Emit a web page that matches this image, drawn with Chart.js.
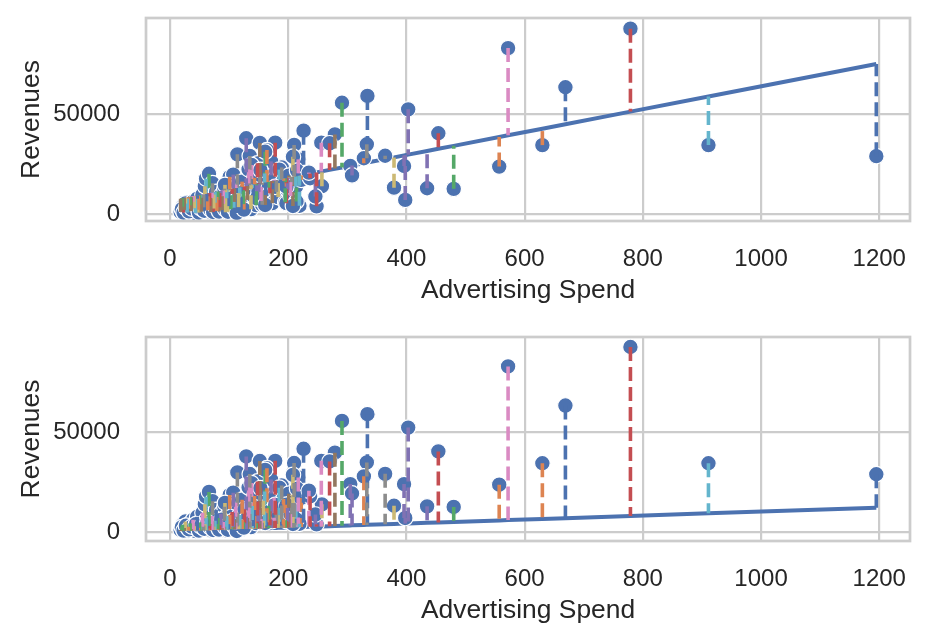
<!DOCTYPE html>
<html>
<head>
<meta charset="utf-8">
<script src="https://cdn.jsdelivr.net/npm/chart.js@4.4.1/dist/chart.umd.min.js"></script>
<style>
html,body{margin:0;padding:0;background:#ffffff;}
#wrap{position:relative;width:929px;height:643px;overflow:hidden;}
.box{position:absolute;left:0;width:929px;}
canvas{display:block;}
</style>
</head>
<body>
<div id="wrap">
  <div class="box" style="top:0px;height:320px"><canvas id="topChart" width="929" height="320"></canvas></div>
  <div class="box" style="top:319px;height:324px"><canvas id="bottomChart" width="929" height="324"></canvas></div>
</div>
<script>
// ---- data (Advertising Spend vs Revenues) ----
const adSpend = [
  1195,630,480,779,435,279,572,364,379,911,
  669,557,291,454,403,18,256,333,257,219,
  334,328,21,270,398,24,217,210,26,29,
  226,31,34,178,396,36,39,189,41,43,
  46,48,50,248,305,53,55,57,59,61,
  62,64,66,67,308,69,71,72,74,76,
  78,79,81,84,86,88,90,92,94,96,
  99,101,103,105,107,109,111,114,116,118,
  120,122,124,126,129,131,133,135,137,139,
  141,143,146,148,150,152,154,156,158,160,
  162,164,167,169,171,173,176,180,183,185,
  187,192,195,197,199,201,204,206,208,213,
  215,222,214,237,246,208,138,152,93,79,
  178,197,20,23,27,32,37,44,49,52,
  58,63,68,73,77,83,87,93,98,108,
  113,125,161,153,147,161,235
];
const revenues = [
  29000,34500,12700,92500,13000,39800,82800,29200,13300,34500,
  63300,23800,55600,40400,52300,1200,35700,34900,14000,4300,
  59000,27950,3800,35400,7200,2200,27400,34600,5400,900,
  41700,2800,4500,35700,24100,1600,6300,23400,3100,700,
  7800,2300,5000,4000,24100,1300,9800,3500,14000,17800,
  6500,2000,20200,4200,19400,1000,8200,15500,2900,5800,
  11200,1700,7200,3600,9300,2100,5200,12800,1100,8000,
  4100,18700,2600,10200,19800,6200,14800,29900,3600,8700,
  1600,16300,5100,11500,37900,7200,22400,29100,2600,13200,
  9200,18200,4600,25400,11200,35600,6700,4800,15800,20400,
  9600,32000,13300,10500,26400,5600,17300,11200,8600,22300,
  14100,16700,6100,5600,12200,19300,9100,14700,28700,13800,
  21800,17200,6400,18000,8900,4200,24600,19700,14700,5600,
  13700,13800,2600,900,3300,1500,2900,4100,900,3000,
  1800,4600,2500,1200,3900,1400,6300,2700,1300,3300,
  700,2400,31200,22100,8000,4700,20800
];
// fitted lines (intercept, slope)
const topFitIntercept = 6770;
const topFitSlope = 57.0;
const bottomFitIntercept = 440;
const bottomFitSlope = 9.93;

const xTicks = [0, 200, 400, 600, 800, 1000, 1200];
const yTicks = [0, 50000];
const xLabel = 'Advertising Spend';
const yLabel = 'Revenues';

const palette = ['#4C72B0','#DD8452','#55A868','#C44E52','#8172B3','#937860','#DA8BC3','#8C8C8C','#CCB974','#64B5CD'];
const FONT = '"Liberation Sans", Arial, sans-serif';
const TEXT = '#262626';
const GRID = '#cccccc';
const CLEAR = 'rgba(0,0,0,0)';

const framePlugin = {
  id: 'frame',
  afterDatasetsDraw(chart) {
    const a = chart.chartArea, ctx = chart.ctx;
    ctx.save();
    ctx.strokeStyle = GRID;
    ctx.lineWidth = 2.7;
    ctx.strokeRect(a.left, a.top, a.right - a.left, a.bottom - a.top);
    ctx.restore();
  }
};

function makeChart(id, intercept, slope, cfg) {
  const pred = adSpend.map(x => intercept + slope * x);
  const datasets = [];
  adSpend.forEach((x, i) => {
    datasets.push({
      data: [{x: x, y: revenues[i]}, {x: x, y: pred[i]}],
      showLine: true,
      borderColor: palette[i % palette.length],
      borderWidth: 3.6,
      borderDash: [14, 6],
      pointRadius: 0,
      fill: false,
      order: 0
    });
  });
  datasets.push({
    data: adSpend.map((x, i) => ({x: x, y: revenues[i]})),
    backgroundColor: '#4C72B0',
    borderColor: '#ffffff',
    borderWidth: 1.2,
    pointRadius: 7.8,
    order: 1
  });
  const sorted = adSpend.map((x, i) => i).sort((a, b) => adSpend[a] - adSpend[b]);
  datasets.push({
    data: sorted.map(i => ({x: adSpend[i], y: pred[i]})),
    showLine: true,
    borderColor: '#4C72B0',
    borderWidth: 4,
    pointRadius: 0,
    fill: false,
    order: 2
  });

  return new Chart(document.getElementById(id), {
    type: 'scatter',
    data: { datasets },
    plugins: [framePlugin],
    options: {
      responsive: false,
      animation: false,
      events: [],
      layout: { padding: { top: 18, right: 19, left: 0, bottom: 0 } },
      plugins: { legend: { display: false }, tooltip: { enabled: false } },
      scales: {
        x: {
          type: 'linear',
          min: -40.6, max: 1252,
          afterBuildTicks: s => { s.ticks = xTicks.map(v => ({value: v})); },
          afterFit: s => { s.height = cfg.xAxisH; },
          grid: { color: GRID, lineWidth: 2.2, drawTicks: true, tickLength: 24, tickColor: CLEAR },
          border: { display: false },
          ticks: { color: TEXT, font: { family: FONT, size: 24 }, padding: 0, maxRotation: 0, autoSkip: false, callback: v => String(v) },
          title: { display: true, text: xLabel, color: TEXT, font: { family: FONT, size: 26.4 }, padding: { top: 0, bottom: cfg.xTitlePad } }
        },
        y: {
          type: 'linear',
          min: cfg.yMin, max: cfg.yMax,
          afterBuildTicks: s => { s.ticks = yTicks.map(v => ({value: v})); },
          afterFit: s => { s.width = 146; },
          grid: { color: GRID, lineWidth: 2.2, drawTicks: true, tickLength: 26, tickColor: CLEAR },
          border: { display: false },
          ticks: { color: TEXT, font: { family: FONT, size: 24 }, padding: 0, callback: v => String(v) },
          title: { display: true, text: yLabel, color: TEXT, font: { family: FONT, size: 26.4 }, padding: { top: 16, bottom: 0 } }
        }
      }
    }
  });
}

makeChart('topChart', topFitIntercept, topFitSlope, { xAxisH: 99, xTitlePad: 13, yMin: -3300, yMax: 97800 });
makeChart('bottomChart', bottomFitIntercept, bottomFitSlope, { xAxisH: 102, xTitlePad: 16, yMin: -4300, yMax: 97500 });
</script>
</body>
</html>
